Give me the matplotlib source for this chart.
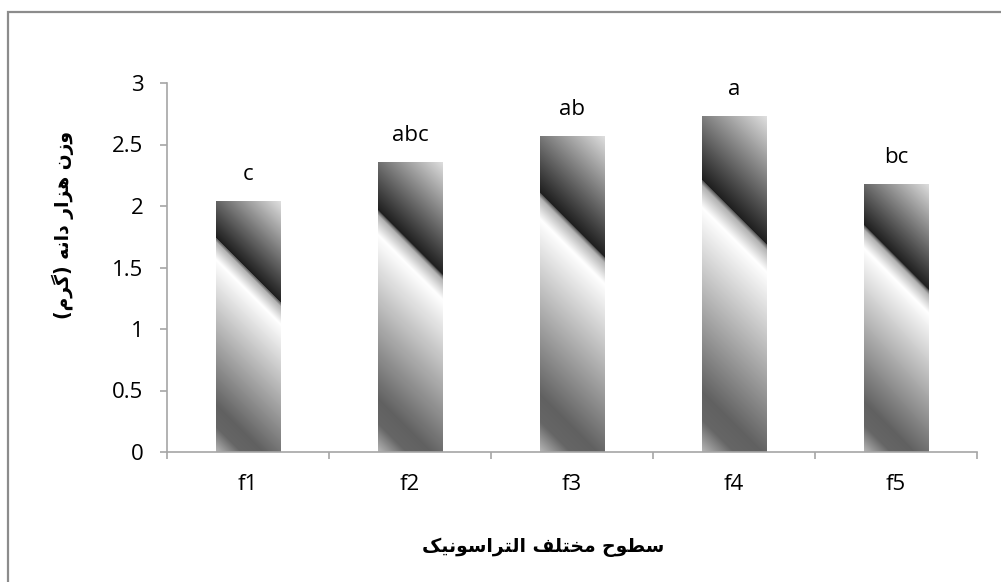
import numpy as np
import matplotlib
matplotlib.use('Agg')
import matplotlib.pyplot as plt
from matplotlib.patches import Rectangle

# -----------------------------
# data
# -----------------------------
categories = ['f1', 'f2', 'f3', 'f4', 'f5']
weights = [2.04, 2.36, 2.57, 2.73, 2.18]
letters = ['c', 'abc', 'ab', 'a', 'bc']
y_label = 'وزن هزار دانه (گرم)'
x_label = 'سطوح مختلف التراسونیک'

# -----------------------------
# tiny persian shaper (matplotlib has no RTL / joining)
# -----------------------------
DUAL = {
    'ن': (0xFEE5, 0xFEE6, 0xFEE7, 0xFEE8), 'ه': (0xFEE9, 0xFEEA, 0xFEEB, 0xFEEC),
    'گ': (0xFB92, 0xFB93, 0xFB94, 0xFB95), 'م': (0xFEE1, 0xFEE2, 0xFEE3, 0xFEE4),
    'س': (0xFEB1, 0xFEB2, 0xFEB3, 0xFEB4), 'ط': (0xFEC1, 0xFEC2, 0xFEC3, 0xFEC4),
    'ح': (0xFEA1, 0xFEA2, 0xFEA3, 0xFEA4), 'خ': (0xFEA5, 0xFEA6, 0xFEA7, 0xFEA8),
    'ت': (0xFE95, 0xFE96, 0xFE97, 0xFE98), 'ل': (0xFEDD, 0xFEDE, 0xFEDF, 0xFEE0),
    'ف': (0xFED1, 0xFED2, 0xFED3, 0xFED4), 'ی': (0xFBFC, 0xFBFD, 0xFBFE, 0xFBFF),
    'ک': (0xFB8E, 0xFB8F, 0xFB90, 0xFB91),
}
RIGHT = {
    'و': (0xFEED, 0xFEEE), 'ز': (0xFEAF, 0xFEB0), 'ا': (0xFE8D, 0xFE8E),
    'ر': (0xFEAD, 0xFEAE), 'د': (0xFEA9, 0xFEAA),
}
MIRROR = {'(': ')', ')': '('}


def shape(text):
    out = []
    for i, ch in enumerate(text):
        prev = text[i - 1] if i > 0 else ''
        nxt = text[i + 1] if i + 1 < len(text) else ''
        joins_prev = prev in DUAL
        if ch in DUAL:
            joins_next = nxt in DUAL or nxt in RIGHT
            if joins_prev and joins_next:
                out.append(chr(DUAL[ch][3]))
            elif joins_prev:
                out.append(chr(DUAL[ch][1]))
            elif joins_next:
                out.append(chr(DUAL[ch][2]))
            else:
                out.append(chr(DUAL[ch][0]))
        elif ch in RIGHT:
            out.append(chr(RIGHT[ch][1] if joins_prev else RIGHT[ch][0]))
        else:
            out.append(ch)
    return ''.join(MIRROR.get(c, c) for c in reversed(out))


# -----------------------------
# figure
# -----------------------------
W, H = 1001, 582
fig = plt.figure(figsize=(W / 100, H / 100), dpi=100)
ax = fig.add_axes([167 / W, 130 / H, (977 - 167) / W, (452 - 83) / H])

axis_col = '#a6a6a6'
latin = ['Open Sans', 'DejaVu Sans']
fs = 16

x = np.arange(len(categories))
bars = ax.bar(x, weights, width=0.40, facecolor='none', edgecolor='none')

ax.set_xlim(-0.5, len(categories) - 0.5)
ax.set_ylim(0, 3)

# gradient stops along the diagonal (0 = top-right corner, 1 = bottom-left)
stops_t = [0.0, 0.32, 0.322, 0.335, 0.39, 0.85, 0.92, 1.0]
stops_g = [0.88, 0.12, 0.35, 0.70, 1.0, 0.38, 0.40, 0.72]

for p in bars.patches:
    x0, y0 = p.get_x(), p.get_y()
    x1, y1 = x0 + p.get_width(), y0 + p.get_height()
    (px0, py0), (px1, py1) = ax.transData.transform([(x0, y0), (x1, y1)])
    w = int(round(px1 - px0))
    h = int(round(py1 - py0))
    xx, yy = np.meshgrid(np.arange(w) + 0.5, np.arange(h) + 0.5)
    t = (yy - xx + w) / (h + w)
    g = np.interp(t, stops_t, stops_g)
    img = np.dstack([g, g, g])
    im = ax.imshow(img, extent=(x0, x1, y0, y1), origin='upper',
                   aspect='auto', interpolation='bilinear', zorder=2)
    im.set_clip_path(p)

ax.set_xlim(-0.5, len(categories) - 0.5)
ax.set_ylim(0, 3)

# letters above bars
for i, (v, lb) in enumerate(zip(weights, letters)):
    ax.annotate(lb, (i, v), xytext=(0, 19), textcoords='offset points',
                ha='center', va='center', fontsize=fs, family=latin)

# axes styling
for s in ['top', 'right']:
    ax.spines[s].set_visible(False)
for s in ['left', 'bottom']:
    ax.spines[s].set_color(axis_col)
    ax.spines[s].set_linewidth(1.2)

ax.set_yticks([0, 0.5, 1, 1.5, 2, 2.5, 3])
ax.set_yticklabels(['0', '0.5', '1', '1.5', '2', '2.5', '3'])
ax.tick_params(axis='y', length=5, width=1.2, color=axis_col, pad=12,
               labelsize=fs)

ax.set_xticks(np.arange(len(categories) + 1) - 0.5)
ax.set_xticklabels([])
ax.set_xticks(x, minor=True)
ax.set_xticklabels(categories, minor=True)
ax.tick_params(axis='x', which='major', length=5, width=1.2, color=axis_col)
ax.tick_params(axis='x', which='minor', length=0, pad=16, labelsize=fs)

for lbl in ax.get_yticklabels() + ax.get_xticklabels(minor=True):
    lbl.set_family(latin)

# axis titles (bold persian)
fig.text(63 / W, 1 - 225 / H, shape(y_label), rotation=90, ha='center',
         va='center', fontsize=13.5, fontweight='bold', family='DejaVu Sans')
fig.text(543 / W, 1 - 547 / H, shape(x_label), ha='center', va='center',
         fontsize=13.5, fontweight='bold', family='DejaVu Sans')

# chart frame (only top and left edges are inside the picture)
frame = Rectangle((8 / W, -0.05), 1.1, 1 - 12 / H + 0.05, transform=fig.transFigure,
                  facecolor='none', edgecolor='#8c8c8c', linewidth=1.6)
fig.add_artist(frame)

fig.savefig('out.png', dpi=100)
